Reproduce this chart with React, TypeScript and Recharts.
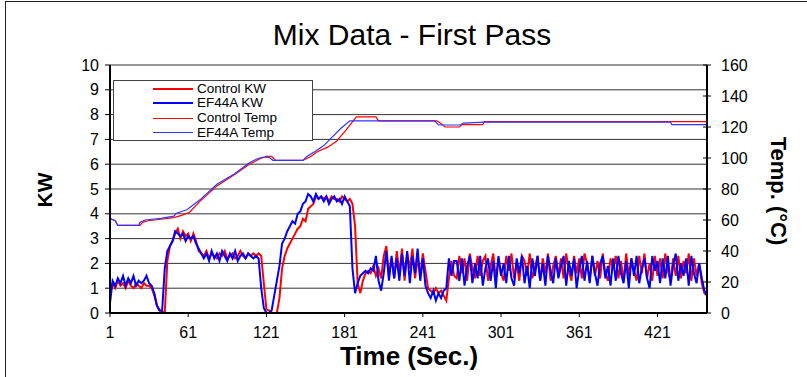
import React from 'react';
import { LineChart, Line, XAxis, YAxis, CartesianGrid } from 'recharts';

// KW readings, one every 2 seconds starting at t = 1
const controlKw = [
  0.9, 1.2,
  1.0, 1.3, 1.1, 1.2, 1.0, 1.3, 1.1, 1.0, 1.2, 1.1, 1.0, 1.2, 1.1, 1.1,
  1.0, 0.7, 0.3, 0.1, 0.05, 0.0, 2.1, 2.7, 2.9, 3.2, 3.4,
  3.0, 3.3, 3.1, 3.2, 2.9, 3.2, 2.9,
  2.5, 2.4,
  2.3, 2.5, 2.2, 2.4, 2.3, 2.2, 2.4, 2.3, 2.5, 2.2, 2.3, 2.4, 2.2, 2.3, 2.5, 2.3, 2.2, 2.4, 2.3, 2.4, 2.3,
  2.4, 2.3, 1.2, 0.15, 0.1, 0.0, 0.0, 0.0, 0.6, 1.8, 2.3, 2.6, 2.8, 3.0, 3.2, 3.4, 3.5, 3.8, 3.7, 4.2, 4.3, 4.4, 4.7, 4.6, 4.7,
  4.6, 4.7, 4.5, 4.7, 4.6, 4.6, 4.5, 4.7, 4.6, 4.5, 4.6, 4.4,
  3.5, 1.2, 0.8, 1.3, 1.6, 1.7, 1.6, 1.9, 1.5, 1.8, 1.4, 2.3, 2.7, 1.5,
  2.2, 1.4, 2.5, 1.6, 2.6, 1.3, 2.4, 1.8, 2.6, 1.4, 2.2, 1.5, 2.4, 1.7,
  1.0, 0.9, 0.8, 1.0, 0.8, 0.9, 0.7, 0.5, 1.4, 2.1, 1.5,
  1.4, 2.3, 1.6, 2.2, 1.3, 2.4, 1.8, 1.4, 2.3, 1.5, 2.1, 2.3, 1.3, 1.9, 2.4, 1.4, 2.2, 1.6, 1.3, 2.3,
  1.7, 2.4, 1.4, 2.0, 1.3, 2.3, 2.1, 1.5, 2.4, 1.4, 1.8, 2.3, 1.3, 2.2, 1.6, 2.4, 1.3, 1.9, 2.3, 1.5,
  2.2, 1.4, 2.4, 1.7, 1.3, 2.3, 1.6, 2.2, 1.4, 2.4, 2.0, 1.3, 2.3, 1.5, 2.1, 1.4, 2.4, 1.6, 1.3, 2.2,
  1.8, 2.3, 1.4, 2.1, 1.3, 2.4, 1.5, 2.2, 1.7, 1.3, 2.3, 1.6, 2.4, 1.4, 2.0, 1.3, 2.3, 1.5, 2.2, 1.4,
  2.4, 1.7, 1.3, 2.2, 1.5, 2.3, 1.4, 2.1, 1.6, 2.4, 1.3, 2.2, 1.5, 2.0,
  1.2, 0.8, 0.7,
];

const ef44aKw = [
  0.4, 1.3,
  1.1, 1.4, 1.2, 1.5, 1.1, 1.4, 1.2, 1.5, 1.1, 1.3, 1.2, 1.3, 1.5, 1.2,
  1.1, 0.8, 0.3, 0.1, 0.1, 1.8, 2.5, 2.7, 2.9, 3.3, 3.2,
  3.1, 3.2, 2.9, 3.1, 3.0, 3.1, 2.8,
  2.6, 2.4,
  2.2, 2.4, 2.1, 2.5, 2.2, 2.4, 2.1, 2.5, 2.3, 2.1, 2.4, 2.2, 2.5, 2.1, 2.3, 2.4, 2.2, 2.4, 2.3, 2.2, 2.3,
  2.2, 1.0, 0.2, 0.0, 0.0, 0.1, 0.7, 1.3, 1.9, 2.8, 3.0, 3.3, 3.5, 3.7, 3.6, 4.0, 4.1, 4.4, 4.5, 4.8, 4.7, 4.5, 4.8, 4.6, 4.7,
  4.5, 4.7, 4.4, 4.6, 4.7, 4.5, 4.6, 4.4, 4.7, 4.5,
  4.3, 1.8, 0.8, 1.2, 1.5, 1.6, 1.7, 1.6, 1.8, 1.7, 2.3, 1.3, 0.9, 1.6, 2.5, 1.3,
  2.3, 1.4, 2.2, 1.3, 2.4, 1.5, 2.5, 1.2, 2.3, 1.6, 2.6, 1.3, 2.2, 1.1,
  0.8, 0.6, 0.9, 0.5, 0.8, 0.6, 0.9, 1.0, 2.2, 1.5, 2.1,
  2.1, 1.3, 2.2, 1.1, 1.9, 2.3, 1.2, 2.0, 1.4, 2.3, 1.1, 1.8, 2.2, 1.3, 2.1, 1.0, 2.3, 1.5, 2.0, 1.2,
  2.3, 1.4, 1.1, 2.2, 1.6, 2.3, 1.2, 1.9, 1.0, 2.2, 1.5, 2.3, 1.3, 2.0, 1.1, 2.3, 1.7, 1.2, 2.2, 1.4,
  1.9, 2.3, 1.1, 2.1, 1.5, 2.2, 1.0, 1.8, 2.3, 1.3, 2.1, 1.2, 2.3, 1.6, 1.1, 2.0, 2.3, 1.4, 1.9, 1.1,
  2.2, 1.3, 2.3, 1.6, 1.2, 2.1, 1.0, 2.2, 1.5, 2.3, 1.2, 1.8, 2.2, 1.4, 1.0, 2.3, 1.7, 2.1, 1.2, 2.2,
  1.4, 2.3, 1.1, 1.9, 2.4, 1.3, 2.0, 1.5, 2.2, 1.1, 2.3, 1.6, 1.2, 2.0,
  1.4, 0.9, 0.7,
];

// temperature (°C) at the points where the trace changes
const controlTempTime = [1, 5, 7, 24, 26, 30, 40, 50, 56, 62, 70, 83, 96, 108, 116, 121, 125, 128, 149, 155, 160, 168, 175, 182, 188, 190, 205, 207, 252, 256, 258, 269, 271, 287, 288, 459];
const controlTemp = [61, 59.5, 56.5, 56.5, 58.5, 59.5, 60.5, 61.5, 63, 65, 72, 82, 89, 96, 99.5, 101, 101, 98.5, 98.5, 101, 104, 107, 111, 118, 124.5, 126.5, 126.5, 124, 124, 121.5, 120, 120, 121.5, 121.5, 123.5, 123.5];

const ef44aTempTime = [1, 5, 7, 23, 24, 28, 40, 50, 52, 60, 70, 83, 96, 108, 114, 118, 123, 126, 149, 152, 158, 165, 172, 178, 185, 250, 253, 270, 272, 289, 431, 432, 459];
const ef44aTemp = [61, 59.5, 56.5, 56.5, 58.5, 60, 61, 62.5, 64.4, 66.6, 73, 83, 89.5, 97, 99.5, 100.5, 100.5, 98.5, 98.5, 101, 104, 108, 114, 119, 124, 124, 121.3, 121.3, 122.5, 123.2, 123.2, 121.5, 121.5];

const timeTicks = [1, 61, 121, 181, 241, 301, 361, 421];
const kwTicks = [0, 1, 2, 3, 4, 5, 6, 7, 8, 9, 10];
const tempTicks = [0, 20, 40, 60, 80, 100, 120, 140, 160];

const kwData = controlKw.map((v, i) => ({ t: 1 + 2 * i, control: v, ef44a: ef44aKw[i] }));
const controlTempData = controlTempTime.map((t, i) => ({ t, temp: controlTemp[i] }));
const ef44aTempData = ef44aTempTime.map((t, i) => ({ t, temp: ef44aTemp[i] }));

const FONT = '"Liberation Sans", Arial, sans-serif';
const RED = '#ff0000';
const BLUE = '#0000ff';

const TICK_SIZE = 4;
const RIGHT_TICK_MARGIN = 10;

// right axis ticks cross the axis line, so draw the inner half here
const TempTick = (props: any) => {
  const { x, y, payload } = props;
  const axisX = x - TICK_SIZE - RIGHT_TICK_MARGIN;
  return (
    <g>
      <line x1={axisX - TICK_SIZE} x2={axisX} y1={y} y2={y} stroke="#000" strokeWidth={1} />
      <text x={x} y={y} dy={6} fontSize={16} fontFamily={FONT} fill="#000" textAnchor="start">
        {payload.value}
      </text>
    </g>
  );
};

const legendItems = [
  { label: 'Control KW', color: RED, width: 2 },
  { label: 'EF44A KW', color: BLUE, width: 2 },
  { label: 'Control Temp', color: RED, width: 1 },
  { label: 'EF44A Temp', color: '#3333ff', width: 1 },
];

export default function App() {
  return (
    <div
      style={{
        position: 'fixed',
        left: 0,
        top: 0,
        width: 807,
        height: 377,
        background: '#fff',
        overflow: 'hidden',
        fontFamily: FONT,
      }}
    >
      <div
        style={{
          position: 'absolute',
          left: 5,
          top: 1,
          width: 900,
          height: 500,
          border: '1px solid #222',
        }}
      />
      <div
        style={{
          position: 'absolute',
          left: 0,
          width: 824,
          top: 17,
          textAlign: 'center',
          fontSize: 30,
          lineHeight: '36px',
          color: '#000',
        }}
      >
        Mix Data - First Pass
      </div>

      <div style={{ position: 'absolute', left: 0, top: 0 }}>
        <LineChart width={807} height={377} data={kwData} margin={{ top: 65, right: 0, bottom: 0, left: 0 }}>
          <CartesianGrid yAxisId="kw" vertical={false} horizontal stroke="#333" strokeWidth={1} />
          <XAxis
            dataKey="t"
            type="number"
            domain={[1, 459]}
            ticks={timeTicks}
            interval={0}
            height={64}
            tickSize={TICK_SIZE}
            tickMargin={10}
            axisLine={{ stroke: '#000', strokeWidth: 2 }}
            tickLine={{ stroke: '#000' }}
            tick={{ fontSize: 16, fontFamily: FONT, fill: '#000' }}
          />
          <YAxis
            yAxisId="kw"
            orientation="left"
            width={110}
            domain={[0, 10]}
            ticks={kwTicks}
            interval={0}
            tickSize={5}
            tickMargin={6}
            axisLine={{ stroke: '#000', strokeWidth: 2 }}
            tickLine={{ stroke: '#000' }}
            tick={{ fontSize: 16, fontFamily: FONT, fill: '#000' }}
          />
          <YAxis
            yAxisId="temp"
            orientation="right"
            width={100}
            domain={[0, 160]}
            ticks={tempTicks}
            interval={0}
            tickSize={TICK_SIZE}
            tickMargin={RIGHT_TICK_MARGIN}
            axisLine={{ stroke: '#000', strokeWidth: 2 }}
            tickLine={{ stroke: '#000' }}
            tick={<TempTick />}
          />
          <Line yAxisId="kw" dataKey="control" stroke={RED} strokeWidth={2} dot={false} activeDot={false} isAnimationActive={false} />
          <Line yAxisId="kw" dataKey="ef44a" stroke={BLUE} strokeWidth={2} dot={false} activeDot={false} isAnimationActive={false} />
          <Line yAxisId="temp" data={controlTempData} dataKey="temp" stroke={RED} strokeWidth={1.2} dot={false} activeDot={false} isAnimationActive={false} />
          <Line yAxisId="temp" data={ef44aTempData} dataKey="temp" stroke="#3333ff" strokeWidth={1.2} dot={false} activeDot={false} isAnimationActive={false} />
        </LineChart>
      </div>

      {/* legend box */}
      <div
        style={{
          position: 'absolute',
          left: 113,
          top: 80,
          width: 198,
          height: 59,
          border: '1.5px solid #444',
          background: '#fff',
        }}
      >
        {legendItems.map((item, i) => (
          <div
            key={item.label}
            style={{ position: 'absolute', left: 0, top: 0.5 + i * 14.8, height: 14, width: 198, display: 'flex', alignItems: 'center' }}
          >
            <div style={{ marginLeft: 39, width: 40, height: item.width, background: item.color }} />
            <div style={{ marginLeft: 4, fontSize: 13.5, lineHeight: '14px', color: '#000', whiteSpace: 'nowrap' }}>{item.label}</div>
          </div>
        ))}
      </div>

      <div
        style={{
          position: 'absolute',
          left: 45,
          top: 190,
          transform: 'translate(-50%, -50%) rotate(-90deg)',
          fontSize: 21,
          fontWeight: 'bold',
          whiteSpace: 'nowrap',
        }}
      >
        KW
      </div>
      <div
        style={{
          position: 'absolute',
          left: 778,
          top: 191,
          transform: 'translate(-50%, -50%) rotate(90deg)',
          fontSize: 22,
          fontWeight: 'bold',
          whiteSpace: 'nowrap',
        }}
      >
        Temp. (°C)
      </div>
      <div
        style={{
          position: 'absolute',
          left: 409,
          top: 356,
          transform: 'translate(-50%, -50%)',
          fontSize: 26,
          fontWeight: 'bold',
          whiteSpace: 'nowrap',
        }}
      >
        Time (Sec.)
      </div>
    </div>
  );
}
